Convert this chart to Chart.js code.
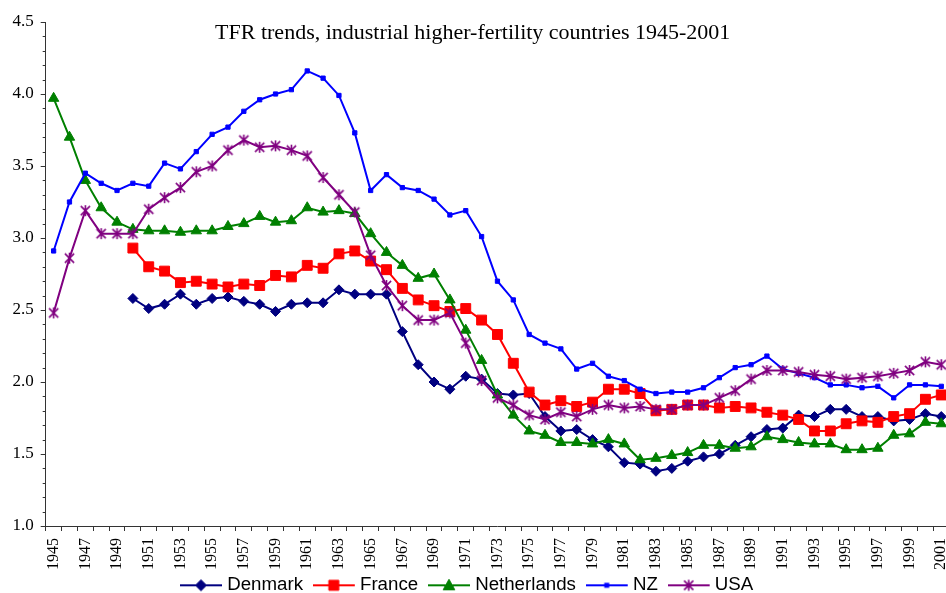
<!DOCTYPE html>
<html>
<head>
<meta charset="utf-8">
<script src="https://cdn.jsdelivr.net/npm/chart.js@4.4.1/dist/chart.umd.min.js"></script>
<style>
html,body{margin:0;padding:0;overflow:hidden;background:#fff;width:946px;height:593px}
#wrap{position:relative;width:946px;height:593px;overflow:hidden}
canvas{display:block}
</style>
</head>
<body>
<div id="wrap"><canvas id="c" width="960" height="593"></canvas></div>
<script>
// ---- data ----
const years = [1945,1946,1947,1948,1949,1950,1951,1952,1953,1954,1955,1956,1957,1958,1959,1960,1961,1962,1963,1964,1965,1966,1967,1968,1969,1970,1971,1972,1973,1974,1975,1976,1977,1978,1979,1980,1981,1982,1983,1984,1985,1986,1987,1988,1989,1990,1991,1992,1993,1994,1995,1996,1997,1998,1999,2000,2001];

const denmark = [null,null,null,null,null,
  2.58,2.51,2.54,2.61,2.54,
  2.58,2.59,2.56,2.54,2.49,2.54,2.55,2.55,2.64,2.61,
  2.61,2.61,2.35,2.12,2.00,1.95,2.04,2.02,1.92,1.91,
  1.92,1.76,1.66,1.67,1.60,1.55,1.44,1.43,1.38,1.40,
  1.45,1.48,1.50,1.56,1.62,1.67,1.68,1.77,1.76,1.81,
  1.81,1.76,1.76,1.73,1.74,1.78,1.76];

const france = [null,null,null,null,null,
  2.93,2.80,2.77,2.69,2.70,
  2.68,2.66,2.68,2.67,2.74,2.73,2.81,2.79,2.89,2.91,
  2.84,2.78,2.65,2.57,2.53,2.49,2.51,2.43,2.33,2.13,
  1.93,1.84,1.87,1.83,1.86,1.95,1.95,1.92,1.80,1.81,
  1.84,1.84,1.82,1.83,1.82,1.79,1.77,1.74,1.66,1.66,
  1.71,1.73,1.72,1.76,1.78,1.88,1.91];

const netherlands = [3.97,3.70,3.40,3.21,3.11,3.06,3.05,3.05,3.04,3.05,
  3.05,3.08,3.10,3.15,3.11,3.12,3.21,3.18,3.19,3.17,
  3.03,2.90,2.81,2.72,2.75,2.57,2.36,2.15,1.91,1.77,
  1.66,1.63,1.58,1.58,1.57,1.60,1.57,1.46,1.47,1.49,
  1.51,1.56,1.56,1.54,1.55,1.62,1.60,1.58,1.57,1.57,
  1.53,1.53,1.54,1.63,1.64,1.72,1.71];

const nz = [2.91,3.25,3.45,3.38,3.33,3.38,3.36,3.52,3.48,3.60,
  3.72,3.77,3.88,3.96,4.00,4.03,4.16,4.11,3.99,3.73,
  3.33,3.44,3.35,3.33,3.27,3.16,3.19,3.01,2.70,2.57,
  2.33,2.27,2.23,2.09,2.13,2.04,2.01,1.95,1.92,1.93,
  1.93,1.96,2.03,2.10,2.12,2.18,2.09,2.06,2.03,1.98,
  1.98,1.96,1.97,1.89,1.98,1.98,1.97];

const usa = [2.48,2.86,3.19,3.03,3.03,3.03,3.20,3.28,3.35,3.46,
  3.50,3.61,3.68,3.63,3.64,3.61,3.57,3.42,3.30,3.18,
  2.88,2.67,2.53,2.43,2.43,2.48,2.27,2.01,1.89,1.84,
  1.77,1.74,1.79,1.76,1.81,1.84,1.82,1.83,1.81,1.81,
  1.84,1.84,1.89,1.94,2.02,2.08,2.08,2.07,2.05,2.04,
  2.02,2.03,2.04,2.06,2.08,2.14,2.12];

const seriesNames = ['Denmark','France','Netherlands','NZ','USA'];
const yTickMin = 1.0, yTickMax = 4.5, yTickStep = 0.5, yMinorStep = 0.1;
const titleText = 'TFR trends, industrial higher-fertility countries 1945-2001';

// ---- styles ----
const seriesColors = ['#000080','#FF0000','#008000','#0000FF','#800080'];
const markerTypes = ['diamond','square','triangle','smallsquare','star'];
const axisColor = '#333333';
const serif = "'Liberation Serif','Times New Roman',serif";
const sans = "'Liberation Sans',Arial,sans-serif";

function drawMarker(ctx, type, x, y, color) {
  ctx.save();
  ctx.fillStyle = color; ctx.strokeStyle = color; ctx.lineWidth = 1;
  ctx.beginPath();
  if (type === 'diamond') {
    ctx.moveTo(x, y - 5.5); ctx.lineTo(x + 5.5, y); ctx.lineTo(x, y + 5.5); ctx.lineTo(x - 5.5, y); ctx.closePath();
    ctx.fill(); ctx.stroke();
  } else if (type === 'square') {
    ctx.rect(x - 5, y - 5, 10, 10); ctx.fill(); ctx.stroke();
  } else if (type === 'triangle') {
    ctx.moveTo(x, y - 6); ctx.lineTo(x + 5.8, y + 4.5); ctx.lineTo(x - 5.8, y + 4.5); ctx.closePath();
    ctx.fill(); ctx.stroke();
  } else if (type === 'smallsquare') {
    ctx.rect(x - 2.5, y - 2.5, 5, 5); ctx.fill();
  } else if (type === 'star') {
    ctx.lineWidth = 1.6;
    ctx.moveTo(x, y - 5.5); ctx.lineTo(x, y + 5.5);
    ctx.moveTo(x - 4.6, y - 4.6); ctx.lineTo(x + 4.6, y + 4.6);
    ctx.moveTo(x + 4.6, y - 4.6); ctx.lineTo(x - 4.6, y + 4.6);
    ctx.stroke();
  }
  ctx.restore();
}

function makeStarPoint(color) {
  const c = document.createElement('canvas');
  c.width = 13; c.height = 13;
  drawMarker(c.getContext('2d'), 'star', 6.5, 6.5, color);
  return c;
}

function makeLegendIcon(type, color) {
  const c = document.createElement('canvas');
  c.width = 50; c.height = 20;
  const g = c.getContext('2d');
  g.strokeStyle = color; g.lineWidth = 2;
  g.beginPath(); g.moveTo(0, 10); g.lineTo(42, 10); g.stroke();
  drawMarker(g, type, 21, 10, color);
  return c;
}

const legendIcons = markerTypes.map((t, i) => makeLegendIcon(t, seriesColors[i]));
const starPoint = makeStarPoint(seriesColors[4]);

const pointCfg = [
  {pointStyle: 'rectRot', pointRadius: 5},
  {pointStyle: 'rect', pointRadius: 7},
  {pointStyle: 'triangle', pointRadius: 6},
  {pointStyle: 'rect', pointRadius: 3},
  {pointStyle: starPoint, pointRadius: 6}
];

const seriesData = [denmark, france, netherlands, nz, usa];

const datasets = seriesData.map((d, i) => Object.assign({
  label: seriesNames[i],
  data: d,
  borderColor: seriesColors[i],
  backgroundColor: seriesColors[i],
  pointBackgroundColor: seriesColors[i],
  pointBorderColor: seriesColors[i],
  pointBorderWidth: 1,
  borderWidth: 2,
  tension: 0,
  fill: false,
  order: 5 - i
}, pointCfg[i]));

const minorTicks = {
  id: 'minorTicks',
  afterDraw(chart) {
    const s = chart.scales.y, ctx = chart.ctx;
    ctx.save();
    ctx.strokeStyle = axisColor; ctx.lineWidth = 1;
    const n = Math.round((yTickMax - yTickMin) / yMinorStep);
    const every = Math.round(yTickStep / yMinorStep);
    for (let k = 1; k < n; k++) {
      if (k % every === 0) continue;
      const py = Math.round(s.getPixelForValue(yTickMin + k * yMinorStep)) + 0.5;
      ctx.beginPath(); ctx.moveTo(s.right - 3, py); ctx.lineTo(s.right, py); ctx.stroke();
    }
    ctx.restore();
  }
};

new Chart(document.getElementById('c'), {
  type: 'line',
  data: { labels: years.map(String), datasets },
  plugins: [minorTicks],
  options: {
    responsive: false,
    animation: false,
    devicePixelRatio: 1,
    layout: { padding: { left: -3.8, right: 10.8, top: 22, bottom: -11.65 } },
    plugins: {
      tooltip: { enabled: false },
      title: {
        display: true,
        text: titleText,
        color: '#000',
        font: { family: serif, size: 22, weight: 'normal', lineHeight: 1.2 },
        padding: { top: -1.9, bottom: -24.5 }
      },
      legend: {
        display: true,
        position: 'bottom',
        title: { display: true, text: ' ', font: { size: 10, lineHeight: 1 }, padding: { top: 0, bottom: -28.2 } },
        labels: {
          usePointStyle: true,
          pointStyleWidth: 25.65,
          padding: 22,
          color: '#000',
          font: { family: sans, size: 18.7 },
          generateLabels: (chart) => chart.data.datasets.map((ds, i) => ({
            text: ds.label,
            pointStyle: legendIcons[i],
            fillStyle: ds.borderColor,
            strokeStyle: ds.borderColor,
            lineWidth: 0,
            fontColor: '#000',
            hidden: !chart.isDatasetVisible(i),
            datasetIndex: i
          }))
        }
      }
    },
    scales: {
      x: {
        type: 'category',
        offset: true,
        grid: { display: true, drawOnChartArea: false, drawTicks: true, tickLength: 5, color: axisColor, offset: true },
        border: { display: true, color: axisColor, width: 1 },
        ticks: {
          autoSkip: false, minRotation: 90, maxRotation: 90, padding: 7,
          color: '#000', font: { family: serif, size: 16 },
          callback: (v, i) => (years[i] % 2 === 1 ? String(years[i]) : '')
        },
        afterFit: (s) => { s.height = 46.15; s.paddingLeft = 0; s.paddingRight = 0; }
      },
      y: {
        type: 'linear',
        min: yTickMin, max: yTickMax,
        grid: { display: true, drawOnChartArea: false, drawTicks: true, tickLength: 5, color: axisColor },
        border: { display: true, color: axisColor, width: 1 },
        ticks: {
          stepSize: yTickStep, padding: 7, color: '#000',
          font: { family: serif, size: 17 },
          callback: (v) => Number(v).toFixed(1)
        },
        afterFit: (s) => { s.width = 49.5; s.paddingTop = 0; s.paddingBottom = 0; }
      }
    }
  }
});
</script>
</body>
</html>
